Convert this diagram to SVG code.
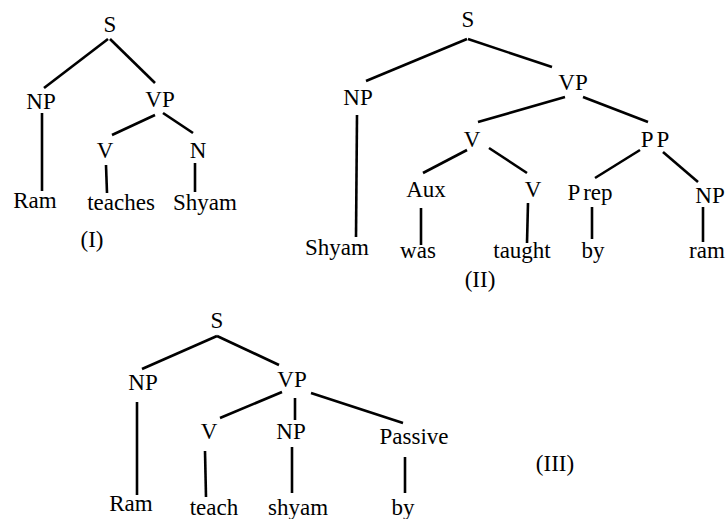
<svg xmlns="http://www.w3.org/2000/svg" width="728" height="519" viewBox="0 0 728 519">
  <style>
    text { font-family: "Liberation Serif", "Times New Roman", serif; font-size: 23px; fill: #000; text-anchor: middle; }
    .edges line { stroke: #000; stroke-width: 2.6; stroke-linecap: butt; }
  </style>
  <rect width="728" height="519" fill="#fff"/>

  <!-- Tree (I): Ram teaches Shyam -->
  <g id="t1">
    <g id="t1-S"><text x="110" y="32">S</text></g>
    <g id="t1-NP"><text x="41" y="109">NP</text></g>
    <g id="t1-VP"><text x="160" y="107">VP</text></g>
    <g id="t1-V"><text x="105" y="158">V</text></g>
    <g id="t1-N"><text x="198" y="158">N</text></g>
    <g id="t1-Ram"><text x="35" y="208">Ram</text></g>
    <g id="t1-teaches"><text x="121" y="210">teaches</text></g>
    <g id="t1-Shyam"><text x="205" y="210">Shyam</text></g>
    <g id="t1-label"><text x="92" y="247">(I)</text></g>
    <g class="edges" id="t1-edges">
      <line x1="108" y1="39" x2="44" y2="88"/>
      <line x1="110" y1="39" x2="155" y2="83"/>
      <line x1="42" y1="113" x2="42" y2="191"/>
      <line x1="155" y1="115" x2="112" y2="135"/>
      <line x1="163" y1="113" x2="193" y2="133"/>
      <line x1="106" y1="165" x2="107" y2="193"/>
      <line x1="195" y1="163" x2="195" y2="192"/>
    </g>
  </g>

  <!-- Tree (II): Shyam was taught by ram -->
  <g id="t2">
    <g id="t2-S"><text x="468" y="27">S</text></g>
    <g id="t2-NP"><text x="358" y="105">NP</text></g>
    <g id="t2-VP"><text x="573" y="90">VP</text></g>
    <g id="t2-V"><text x="472" y="147">V</text></g>
    <g id="t2-PP"><text x="655" y="147">P<tspan dx="3">P</tspan></text></g>
    <g id="t2-Aux"><text x="426" y="197">Aux</text></g>
    <g id="t2-V2"><text x="533" y="197">V</text></g>
    <g id="t2-Prep"><text x="590" y="200">P<tspan dx="3">rep</tspan></text></g>
    <g id="t2-NP2"><text x="710" y="203">NP</text></g>
    <g id="t2-Shyam"><text x="337" y="255">Shyam</text></g>
    <g id="t2-was"><text x="418" y="258">was</text></g>
    <g id="t2-taught"><text x="522" y="258">taught</text></g>
    <g id="t2-by"><text x="593" y="258">by</text></g>
    <g id="t2-ram"><text x="707" y="258">ram</text></g>
    <g id="t2-label"><text x="480" y="287">(II)</text></g>
    <g class="edges" id="t2-edges">
      <line x1="467" y1="39" x2="366" y2="81"/>
      <line x1="468" y1="39" x2="552" y2="67"/>
      <line x1="357" y1="115" x2="356" y2="237"/>
      <line x1="565" y1="97" x2="478" y2="122"/>
      <line x1="583" y1="97" x2="648" y2="122"/>
      <line x1="467" y1="150" x2="423" y2="173"/>
      <line x1="489" y1="148" x2="527" y2="173"/>
      <line x1="640" y1="150" x2="595" y2="178"/>
      <line x1="663" y1="152" x2="698" y2="182"/>
      <line x1="421" y1="208" x2="421" y2="245"/>
      <line x1="528" y1="203" x2="527" y2="243"/>
      <line x1="592" y1="207" x2="592" y2="239"/>
      <line x1="703" y1="207" x2="703" y2="242"/>
    </g>
  </g>

  <!-- Tree (III): Ram teach shyam by (passive) -->
  <g id="t3">
    <g id="t3-S"><text x="217" y="328">S</text></g>
    <g id="t3-NP"><text x="143" y="390">NP</text></g>
    <g id="t3-VP"><text x="292" y="387">VP</text></g>
    <g id="t3-V"><text x="209" y="439">V</text></g>
    <g id="t3-NP2"><text x="291" y="439">NP</text></g>
    <g id="t3-Passive"><text x="414" y="444">Passive</text></g>
    <g id="t3-Ram"><text x="131" y="511">Ram</text></g>
    <g id="t3-teach"><text x="214" y="515">teach</text></g>
    <g id="t3-shyam"><text x="298" y="515">shyam</text></g>
    <g id="t3-by"><text x="403" y="515">by</text></g>
    <g id="t3-label"><text x="555" y="471">(III)</text></g>
    <g class="edges" id="t3-edges">
      <line x1="217" y1="336" x2="142" y2="369"/>
      <line x1="217" y1="336" x2="279" y2="365"/>
      <line x1="137" y1="402" x2="137" y2="495"/>
      <line x1="282" y1="392" x2="220" y2="418"/>
      <line x1="295" y1="398" x2="295" y2="420"/>
      <line x1="311" y1="393" x2="403" y2="423"/>
      <line x1="205" y1="451" x2="206" y2="497"/>
      <line x1="292" y1="447" x2="292" y2="493"/>
      <line x1="405" y1="457" x2="405" y2="493"/>
    </g>
  </g>
</svg>
